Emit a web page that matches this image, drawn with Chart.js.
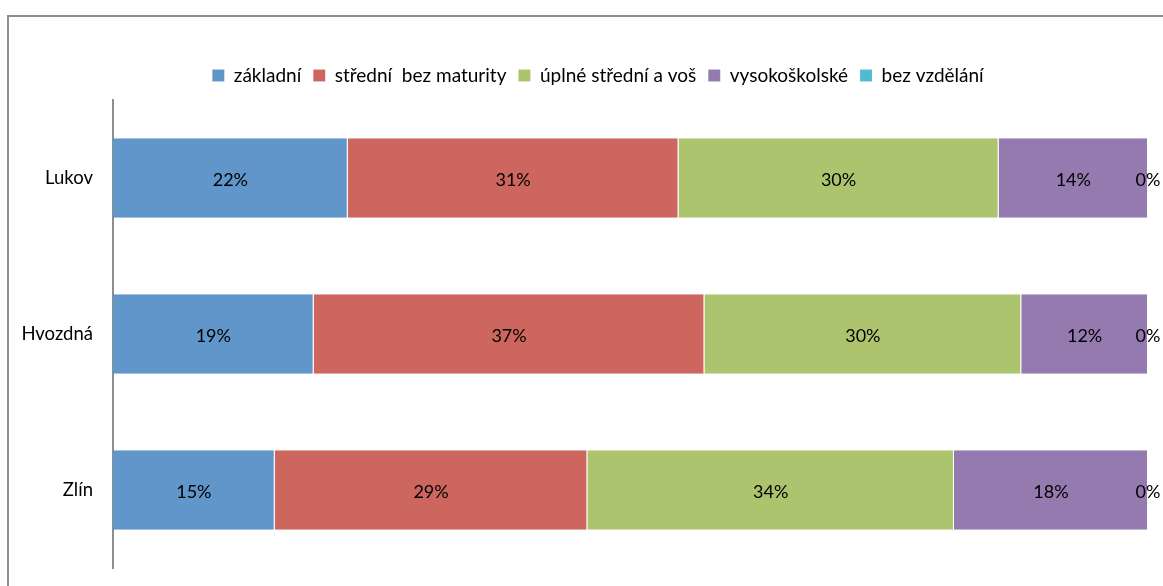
<!DOCTYPE html>
<html>
<head>
<meta charset="utf-8">
<script src="https://cdn.jsdelivr.net/npm/chart.js@4"></script>
<style>
html,body{margin:0;padding:0;background:#fff;}
#wrap{width:1163px;height:586px;position:relative;}
</style>
</head>
<body>
<div id="wrap"><canvas id="c" width="1163" height="586"></canvas></div>
<script>
const categories = ["Lukov", "Hvozdná", "Zlín"];
const seriesNames = ["základní", "střední  bez maturity", "úplné střední a voš", "vysokoškolské", "bez vzdělání"];
const zakladni = [22, 19, 15];
const stredniBezMaturity = [31, 37, 29];
const uplneStredni = [30, 30, 34];
const vysokoskolske = [14, 12, 18];
const bezVzdelani = [0, 0, 0];
const colors = ["#6096C9", "#CC665F", "#ADC46E", "#957AB0", "#4FBBD1"];

const raw = [zakladni, stredniBezMaturity, uplneStredni, vysokoskolske, bezVzdelani];
const totals = categories.map((_, i) => raw.reduce((s, arr) => s + arr[i], 0));

const datasets = raw.map((arr, k) => ({
  label: seriesNames[k],
  data: arr.map((v, i) => v / totals[i] * 100),
  raw: arr,
  backgroundColor: colors[k],
  borderColor: 'rgba(255,255,255,0.45)',
  borderWidth: {left:0,right:1,top:0,bottom:0},
  borderSkipped: false,
  barPercentage: 0.51,
  categoryPercentage: 1.0
}));

const FONT = "Lato, 'Open Sans', sans-serif";

const framePlugin = {
  id: 'frame',
  beforeDraw(chart) {
    const ctx = chart.ctx;
    ctx.save();
    ctx.fillStyle = '#fff';
    ctx.fillRect(0, 0, chart.width, chart.height);
    ctx.strokeStyle = '#8e8e8e';
    ctx.lineWidth = 2;
    ctx.strokeRect(8, 16, chart.width + 20, chart.height + 20);
    ctx.restore();
  }
};

const legendShift = {
  id: 'legendShift',
  afterLayout(chart) {
    const lg = chart.legend;
    if (!lg) return;
    const dx = 24, dy = -5;
    lg.left += dx; lg.right += dx;
    lg.top += dy; lg.bottom += dy;
  }
};

const labelPlugin = {
  id: 'segLabels',
  afterDatasetsDraw(chart) {
    const ctx = chart.ctx;
    ctx.save();
    ctx.font = "18px " + FONT;
    ctx.fillStyle = '#000';
    ctx.textAlign = 'center';
    ctx.textBaseline = 'middle';
    chart.data.datasets.forEach((ds, k) => {
      const meta = chart.getDatasetMeta(k);
      meta.data.forEach((bar, i) => {
        const x = (bar.x + bar.base) / 2;
        ctx.fillText(ds.raw[i] + '%', x, bar.y + 2);
      });
    });
    ctx.restore();
  }
};

new Chart(document.getElementById('c'), {
  type: 'bar',
  data: { labels: categories, datasets },
  options: {
    indexAxis: 'y',
    responsive: false,
    animation: false,
    layout: { padding: { top: 59, right: 15, bottom: 18, left: 0 } },
    plugins: {
      legend: {
        position: 'top',
        labels: {
          boxWidth: 12, boxHeight: 12, padding: 12,
          color: '#000',
          font: { family: FONT, size: 19 }
        }
      },
      tooltip: { enabled: false }
    },
    scales: {
      x: { stacked: true, min: 0, max: 100, display: false },
      y: {
        stacked: true,
        grid: { display: false, drawTicks: false },
        border: { display: true, color: '#8e8e8e', width: 2 },
        ticks: { color: '#000', padding: 20, font: { family: FONT, size: 18.5 } },
        afterFit(scale) {
          scale.width = 113;
          scale.paddingTop = 0;
          scale.paddingBottom = 0;
        }
      }
    }
  },
  plugins: [framePlugin, legendShift, labelPlugin]
});
</script>
</body>
</html>
